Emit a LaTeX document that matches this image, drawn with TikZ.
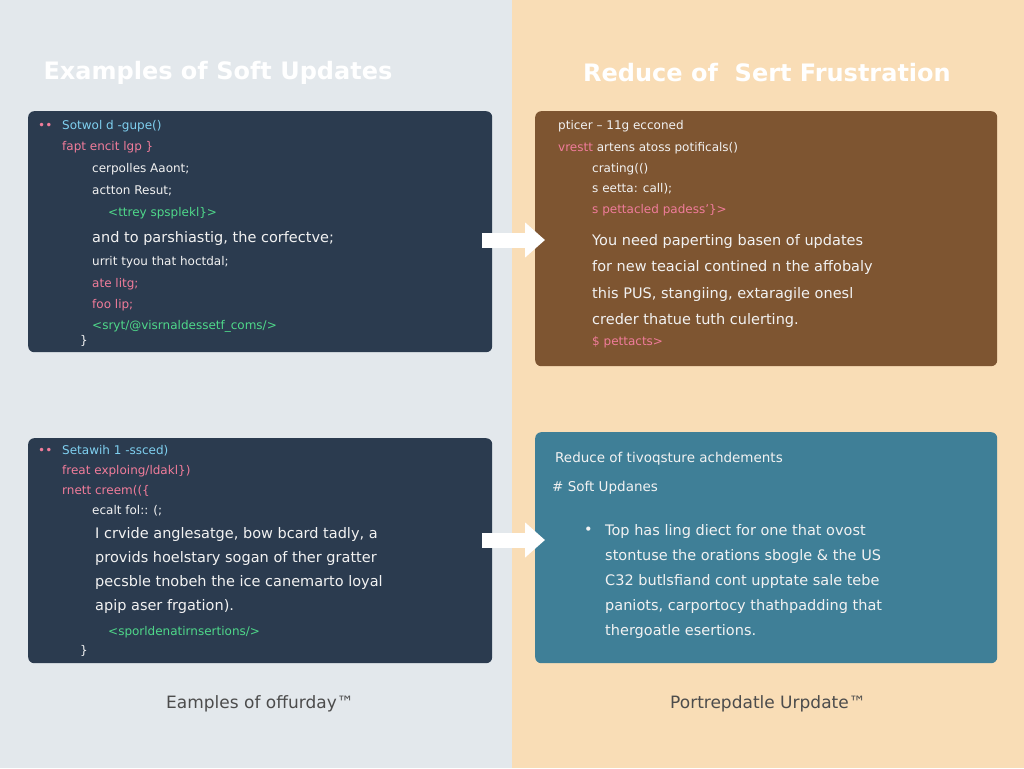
\documentclass[tikz,border=0pt]{standalone}
\usepackage{fontspec}
\setmainfont{DejaVu Sans}
\setmonofont{DejaVu Sans Mono}
\usetikzlibrary{arrows.meta}
\definecolor{leftbg}{HTML}{E3E8EC}
\definecolor{rightbg}{HTML}{F9DDB6}
\definecolor{navy}{HTML}{2B3B4F}
\definecolor{brown}{HTML}{7E5531}
\definecolor{teal}{HTML}{3F7F97}
\definecolor{cblue}{HTML}{7FD0F0}
\definecolor{cpink}{HTML}{F07C9A}
\definecolor{cgreen}{HTML}{4FD88A}
\definecolor{cwhite}{HTML}{F2F2F2}
\tikzset{box/.style = {rounded corners=6pt, inner sep=0pt, anchor=north west},
           cl/.style = {anchor=west, inner sep=0pt, font=\fontsize{12}{12}\selectfont, text=cwhite},
           tl/.style = {anchor=west, inner sep=0pt, font=\fontsize{14.5}{14.5}\selectfont, text=cwhite},
           ttl/.style = {inner sep=0pt, font=\bfseries\fontsize{24}{24}\selectfont, text=white},
           caption/.style = {inner sep=0pt, font=\fontsize{17}{17}\selectfont, text=black!70},
           bigarrow/.style = {white, line width=15pt, shorten <=-10pt, shorten >=-10pt,
                              -{Triangle[width=34pt,length=20pt]}}}
\begin{document}
\begin{tikzpicture}[x=1pt, y=-1pt]
    \useasboundingbox (0,0) rectangle (1024,768);
    \fill[leftbg] (0,0) rectangle (512,768);
    \fill[rightbg] (512,0) rectangle (1024,768);
    % titles
    \node[ttl] (t1) at (218,73) {Examples of Soft Updates};
    \node[ttl] (t2) at (767,73) {Reduce of\ \ Sert Frustration};
    % panels
    \node[box, fill=navy, minimum width=464pt, minimum height=241pt] (tlbox) at (28,111) {};
    \node[box, fill=brown, minimum width=462pt, minimum height=255pt] (trbox) at (535,111) {};
    \node[box, fill=navy, minimum width=464pt, minimum height=225pt] (blbox) at (28,438) {};
    \node[box, fill=teal, minimum width=462pt, minimum height=231pt] (brbox) at (535,432) {};
    % top left code
    \node[cl, text=cpink] (a0) at (38,126) {••};
    \node[cl, text=cblue] (a1) at (62,126) {Sotwol d -gupe()};
    \node[cl, text=cpink] (a2) at (62,147) {fapt encit lgp \}};
    \node[cl] (a3) at (92,169) {cerpolles Aaont;};
    \node[cl] (a4) at (92,191) {actton Resut;};
    \node[cl, text=cgreen] (a5) at (108,213) {<ttrey spsplekl\}>};
    \node[tl] (a6) at (92,238) {and to parshiastig, the corfectve;};
    \node[cl] (a7) at (92,262) {urrit tyou that hoctdal;};
    \node[cl, text=cpink] (a8) at (92,284) {ate litg;};
    \node[cl, text=cpink] (a9) at (92,305) {foo lip;};
    \node[cl, text=cgreen] (a10) at (92,326) {<sryt/@visrnaldessetf\_coms/>};
    \node[cl] (a11) at (80,341) {\}};
    % top right code
    \node[cl] (b1) at (558,126) {pticer – 11g ecconed};
    \node[cl] (b2) at (558,148) {\textcolor{cpink}{vrestt} artens atoss potificals()};
    \node[cl] (b3) at (592,169) {crating(()};
    \node[cl] (b4) at (592,189) {s eetta: call);};
    \node[cl, text=cpink] (b5) at (592,210) {s pettacled padess'\}>};
    \node[tl] (b6) at (592,241) {You need paperting basen of updates};
    \node[tl] (b7) at (592,267) {for new teacial contined n the affobaly};
    \node[tl] (b8) at (592,294) {this PUS, stangiing, extaragile onesl};
    \node[tl] (b9) at (592,320) {creder thatue tuth culerting.};
    \node[cl, text=cpink] (b10) at (592,342) {\$ pettacts>};
    % bottom left code
    \node[cl, text=cpink] (c0) at (38,451) {••};
    \node[cl, text=cblue] (c1) at (62,451) {Setawih 1 -ssced)};
    \node[cl, text=cpink] (c2) at (62,471) {freat exploing/ldakl\})};
    \node[cl, text=cpink] (c3) at (62,491) {rnett creem((\{};
    \node[cl] (c4) at (92,511) {ecalt fol:: (;};
    \node[tl] (c5) at (95,534) {I crvide anglesatge, bow bcard tadly, a};
    \node[tl] (c6) at (95,558) {provids hoelstary sogan of ther gratter};
    \node[tl] (c7) at (95,582) {pecsble tnobeh the ice canemarto loyal};
    \node[tl] (c8) at (95,606) {apip aser frgation).};
    \node[cl, text=cgreen] (c9) at (108,632) {<sporldenatirnsertions/>};
    \node[cl] (c10) at (80,651) {\}};
    % bottom right text
    \node[tl, font=\fontsize{13.5}{13.5}\selectfont] (d1) at (555,459) {Reduce of tivoqsture achdements};
    \node[tl, font=\fontsize{13.5}{13.5}\selectfont] (d2) at (552,488) {\# Soft Updanes};
    \node[tl] (d0) at (584,531) {•};
    \node[tl] (d3) at (605,531) {Top has ling diect for one that ovost};
    \node[tl] (d4) at (605,556) {stontuse the orations sbogle \& the US};
    \node[tl] (d5) at (605,581) {C32 butlsfiand cont upptate sale tebe};
    \node[tl] (d6) at (605,606) {paniots, carportocy thathpadding that};
    \node[tl] (d7) at (605,631) {thergoatle esertions.};
    % arrows
    \draw[bigarrow] (tlbox.east |- 0,240) -- (trbox.west |- 0,240);
    \draw[bigarrow] (blbox.east |- 0,540) -- (brbox.west |- 0,540);
    % captions
    \node[caption] (e1) at (260,704) {Eamples of offurday™};
    \node[caption] (e2) at (768,704) {Portrepdatle Urpdate™};
\end{tikzpicture}
\end{document}
